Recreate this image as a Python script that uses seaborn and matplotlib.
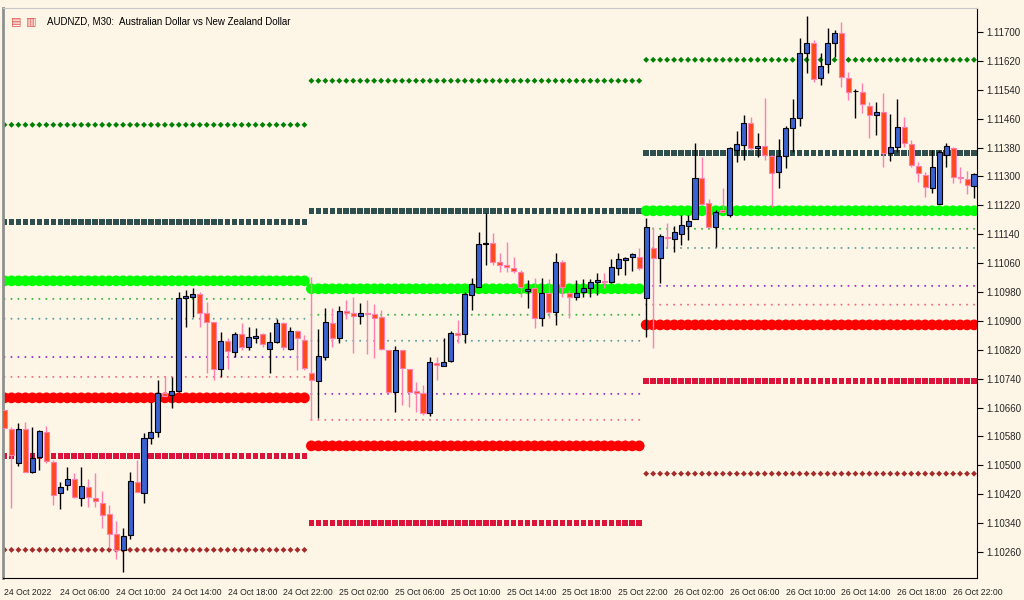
import numpy as np
import pandas as pd
import seaborn as sns
import matplotlib.pyplot as plt

# AUDNZD M30 candles, 24 Oct 02:00 .. 26 Oct 23:30
opens = [1.10654, 1.10601, 1.10507, 1.10601, 1.10482, 1.10524, 1.10593, 1.10510, 1.10424, 1.10446,
         1.10463, 1.10410, 1.10441, 1.10410, 1.10396, 1.10366, 1.10310, 1.10266, 1.10308, 1.10454,
         1.10424, 1.10576, 1.10593, 1.10701, 1.10695, 1.10706, 1.10964, 1.10967, 1.10975, 1.10922,
         1.10897, 1.10767, 1.10845, 1.10814, 1.10864, 1.10828, 1.10853, 1.10864, 1.10823, 1.10842,
         1.10895, 1.10823, 1.10872, 1.10847, 1.10756, 1.10734, 1.10800, 1.10895, 1.10853, 1.10928,
         1.10922, 1.10914, 1.10922, 1.10920, 1.10911, 1.10820, 1.10704, 1.10820, 1.10767, 1.10706,
         1.10701, 1.10645, 1.10784, 1.10776, 1.10789, 1.10867, 1.10864, 1.10972, 1.10994, 1.11113,
         1.11116, 1.11063, 1.11055, 1.11047, 1.11036, 1.10983, 1.10991, 1.10909, 1.10978, 1.10925,
         1.11063, 1.10978, 1.10967, 1.10980, 1.10991, 1.11008, 1.11011, 1.11008, 1.11047, 1.11069,
         1.11077, 1.11077, 1.10964, 1.11102, 1.11075, 1.11133, 1.11127, 1.11141, 1.11163, 1.11183,
         1.11296, 1.11227, 1.11160, 1.11207, 1.11194, 1.11374, 1.11387, 1.11448, 1.11379, 1.11385,
         1.11357, 1.11313, 1.11357, 1.11435, 1.11462, 1.11642, 1.11670, 1.11573, 1.11612, 1.11670,
         1.11698, 1.11573, 1.11537, 1.11534, 1.11496, 1.11469, 1.11479, 1.11365, 1.11382, 1.11437,
         1.11390, 1.11329, 1.11304, 1.11268, 1.11224, 1.11360, 1.11379, 1.11299, 1.11293, 1.11274]
highs = [1.10654, 1.10607, 1.10618, 1.10620, 1.10607, 1.10598, 1.10609, 1.10515, 1.10454, 1.10496,
         1.10479, 1.10496, 1.10463, 1.10479, 1.10429, 1.10391, 1.10346, 1.10327, 1.10482, 1.10515,
         1.10590, 1.10676, 1.10737, 1.10748, 1.10745, 1.10980, 1.10986, 1.10991, 1.10980, 1.10953,
         1.10897, 1.10870, 1.10853, 1.10870, 1.10895, 1.10883, 1.10881, 1.10867, 1.10870, 1.10906,
         1.10897, 1.10883, 1.10875, 1.10861, 1.11022, 1.10878, 1.10936, 1.10936, 1.10942, 1.10958,
         1.10967, 1.10950, 1.10958, 1.10947, 1.10931, 1.10820, 1.10831, 1.10820, 1.10767, 1.10731,
         1.10723, 1.10800, 1.10800, 1.10853, 1.10872, 1.10903, 1.10980, 1.11019, 1.11146, 1.11199,
         1.11144, 1.11088, 1.11119, 1.11077, 1.11041, 1.11014, 1.11019, 1.11019, 1.11016, 1.11088,
         1.11069, 1.10986, 1.11014, 1.11016, 1.11016, 1.11033, 1.11033, 1.11072, 1.11088, 1.11077,
         1.11088, 1.11102, 1.11185, 1.11160, 1.11141, 1.11171, 1.11163, 1.11194, 1.11194, 1.11393,
         1.11354, 1.11238, 1.11207, 1.11268, 1.11382, 1.11426, 1.11471, 1.11465, 1.11421, 1.11518,
         1.11360, 1.11404, 1.11440, 1.11515, 1.11684, 1.11745, 1.11678, 1.11642, 1.11712, 1.11706,
         1.11728, 1.11590, 1.11541, 1.11559, 1.11507, 1.11505, 1.11532, 1.11474, 1.11515, 1.11465,
         1.11401, 1.11340, 1.11313, 1.11374, 1.11374, 1.11393, 1.11382, 1.11327, 1.11315, 1.11310]
lows = [1.10604, 1.10382, 1.10499, 1.10482, 1.10479, 1.10488, 1.10507, 1.10391, 1.10380, 1.10432,
        1.10410, 1.10388, 1.10385, 1.10385, 1.10327, 1.10272, 1.10241, 1.10205, 1.10296, 1.10427,
        1.10396, 1.10560, 1.10579, 1.10692, 1.10659, 1.10704, 1.10883, 1.10911, 1.10883, 1.10756,
        1.10737, 1.10745, 1.10767, 1.10800, 1.10820, 1.10820, 1.10839, 1.10828, 1.10756, 1.10839,
        1.10820, 1.10820, 1.10764, 1.10764, 1.10626, 1.10632, 1.10792, 1.10828, 1.10839, 1.10906,
        1.10812, 1.10892, 1.10809, 1.10798, 1.10820, 1.10701, 1.10648, 1.10668, 1.10662, 1.10648,
        1.10640, 1.10637, 1.10737, 1.10776, 1.10787, 1.10839, 1.10839, 1.10931, 1.10994, 1.11055,
        1.11055, 1.11036, 1.11036, 1.11033, 1.10967, 1.10936, 1.10881, 1.10886, 1.10909, 1.10889,
        1.10967, 1.10909, 1.10958, 1.10967, 1.10967, 1.10972, 1.10991, 1.11005, 1.11027, 1.11027,
        1.11039, 1.11041, 1.10856, 1.10825, 1.11005, 1.11105, 1.11091, 1.11111, 1.11124, 1.11183,
        1.11221, 1.11158, 1.11105, 1.11202, 1.11188, 1.11340, 1.11346, 1.11374, 1.11354, 1.11346,
        1.11216, 1.11268, 1.11324, 1.11368, 1.11440, 1.11587, 1.11562, 1.11554, 1.11587, 1.11631,
        1.11548, 1.11512, 1.11462, 1.11477, 1.11407, 1.11415, 1.11327, 1.11343, 1.11368, 1.11382,
        1.11327, 1.11285, 1.11243, 1.11255, 1.11224, 1.11327, 1.11282, 1.11282, 1.11252, 1.11241]
closes = [1.10604, 1.10529, 1.10601, 1.10482, 1.10521, 1.10596, 1.10512, 1.10418, 1.10441, 1.10463,
          1.10413, 1.10443, 1.10413, 1.10402, 1.10363, 1.10310, 1.10266, 1.10305, 1.10457, 1.10427,
          1.10576, 1.10593, 1.10701, 1.10692, 1.10706, 1.10964, 1.10969, 1.10975, 1.10922, 1.10897,
          1.10767, 1.10845, 1.10817, 1.10864, 1.10828, 1.10856, 1.10859, 1.10836, 1.10842, 1.10895,
          1.10828, 1.10872, 1.10853, 1.10770, 1.10737, 1.10803, 1.10897, 1.10853, 1.10928, 1.10922,
          1.10914, 1.10922, 1.10920, 1.10909, 1.10823, 1.10704, 1.10820, 1.10770, 1.10704, 1.10701,
          1.10645, 1.10787, 1.10778, 1.10787, 1.10867, 1.10861, 1.10975, 1.11003, 1.11113, 1.11116,
          1.11063, 1.11055, 1.11050, 1.11039, 1.10994, 1.10989, 1.10909, 1.10978, 1.10925, 1.11063,
          1.10994, 1.10967, 1.10978, 1.10991, 1.11008, 1.11014, 1.11008, 1.11050, 1.11072, 1.11075,
          1.11086, 1.11047, 1.11160, 1.11075, 1.11135, 1.11130, 1.11146, 1.11166, 1.11177, 1.11296,
          1.11224, 1.11160, 1.11202, 1.11202, 1.11379, 1.11390, 1.11448, 1.11379, 1.11385, 1.11360,
          1.11310, 1.11357, 1.11435, 1.11462, 1.11642, 1.11670, 1.11570, 1.11606, 1.11670, 1.11698,
          1.11576, 1.11534, 1.11537, 1.11501, 1.11471, 1.11479, 1.11365, 1.11382, 1.11437, 1.11393,
          1.11332, 1.11310, 1.11271, 1.11327, 1.11368, 1.11385, 1.11299, 1.11296, 1.11277, 1.11307]

# daily pivot levels: bars per day and one value per level per day
day_bars = [44, 48, 48]
levels = {
    "r3": [1.11443, 1.11565, 1.11623],
    "r2": [1.11174, 1.11205, 1.11365],
    "r1": [1.11011, 1.10989, 1.11205],
    "m_up": [1.10961, 1.10917, 1.11155],
    "pp": [1.10906, 1.10845, 1.11102],
    "m_dn": [1.10800, 1.10698, 1.10997],
    "m_dn2": [1.10745, 1.10626, 1.10945],
    "s1": [1.10687, 1.10554, 1.10889],
    "s2": [1.10526, 1.10341, 1.10734],
    "s3": [1.10266, 1.10000, 1.10477],
}
level_style = {
    "r3": dict(marker="D", s=9, color="#008000"),
    "r2": dict(marker="s", s=16, color="#2F4F4F"),
    "r1": dict(marker="o", s=60, color="#00FF00"),
    "m_up": dict(marker="o", s=2, color="#3CB43C"),
    "pp": dict(marker="o", s=2, color="#5F9EA0"),
    "m_dn": dict(marker="o", s=2, color="#9932CC"),
    "m_dn2": dict(marker="o", s=2, color="#F07080"),
    "s1": dict(marker="o", s=60, color="#FF0000"),
    "s2": dict(marker="s", s=16, color="#DC143C"),
    "s3": dict(marker="D", s=9, color="#A52A2A"),
}

x_labels = ["24 Oct 2022", "24 Oct 06:00", "24 Oct 10:00", "24 Oct 14:00", "24 Oct 18:00", "24 Oct 22:00",
            "25 Oct 02:00", "25 Oct 06:00", "25 Oct 10:00", "25 Oct 14:00", "25 Oct 18:00", "25 Oct 22:00",
            "26 Oct 02:00", "26 Oct 06:00", "26 Oct 10:00", "26 Oct 14:00", "26 Oct 18:00", "26 Oct 22:00"]
y_ticks = [1.10260, 1.10340, 1.10420, 1.10500, 1.10580, 1.10660, 1.10740, 1.10820, 1.10900, 1.10980,
           1.11060, 1.11140, 1.11220, 1.11300, 1.11380, 1.11460, 1.11540, 1.11620, 1.11700]

sns.set_style("white")
plt.rcParams['font.family'] = ['Liberation Sans', 'DejaVu Sans']

bg = "#FDF5E6"
fig = plt.figure(figsize=(10.24, 6), dpi=100, facecolor=bg)
ax = fig.add_axes([3 / 1024, 22 / 600, 974 / 1024, 570 / 600], facecolor=bg)

df = pd.DataFrame({"o": opens, "h": highs, "l": lows, "c": closes})
df["x"] = np.arange(len(df))

# level markers, one per bar of each day
start = 0
for d, n in enumerate(day_bars):
    xs = np.arange(start, start + n)
    for name, vals in levels.items():
        st = level_style[name]
        sns.scatterplot(x=xs, y=np.full(n, vals[d]), ax=ax, marker=st["marker"], s=st["s"],
                        color=st["color"], edgecolor="none", linewidth=0, zorder=2, legend=False)
    start += n

# candles
bull = df[df.c >= df.o]
bear = df[df.c < df.o]
ax.vlines(bull.x, bull.l, bull.h, color="black", lw=1, zorder=3)
ax.vlines(bear.x, bear.l, bear.h, color="#FF7FB0", lw=1, zorder=3)
ax.bar(bull.x, bull.c - bull.o, bottom=bull.o, width=0.72, color="#3A62D0", edgecolor="black", lw=0.8, zorder=4)
ax.bar(bear.x, bear.o - bear.c, bottom=bear.c, width=0.72, color="#FF4A1C", edgecolor="#FF7FB0", lw=0.8, zorder=4)

ax.set_xlim(-0.215, 139.43)
ax.set_ylim(1.101881, 1.117665)

ax.set_xticks(np.arange(0, 140, 8))
ax.set_xticklabels(x_labels, fontsize=6.2, ha="left")
ax.tick_params(axis="x", direction="out", length=4, pad=3, color="black")
ax.yaxis.tick_right()
ax.set_yticks(y_ticks)
ax.set_yticklabels([f"{v:.5f}" for v in y_ticks], fontsize=7)
ax.tick_params(axis="y", direction="out", length=4, pad=3, color="black")

for side in ["left", "bottom", "right"]:
    ax.spines[side].set_visible(True)
    ax.spines[side].set_color("black")
    ax.spines[side].set_linewidth(0.8)
ax.spines["left"].set_color("#909090")
ax.spines["left"].set_linewidth(2)
ax.spines["top"].set_color("#C8C8C8")

ax.text(0.045, 0.985, "AUDNZD, M30:  Australian Dollar vs New Zealand Dollar", transform=ax.transAxes,
        fontsize=7, va="top", ha="left", color="black")
ax.text(0.008, 0.985, "\u25A4", transform=ax.transAxes, fontsize=8, va="top", color="#E05050")
ax.text(0.024, 0.985, "\u25A5", transform=ax.transAxes, fontsize=8, va="top", color="#E05050")

fig.savefig("out.png", dpi=100, facecolor=bg)
